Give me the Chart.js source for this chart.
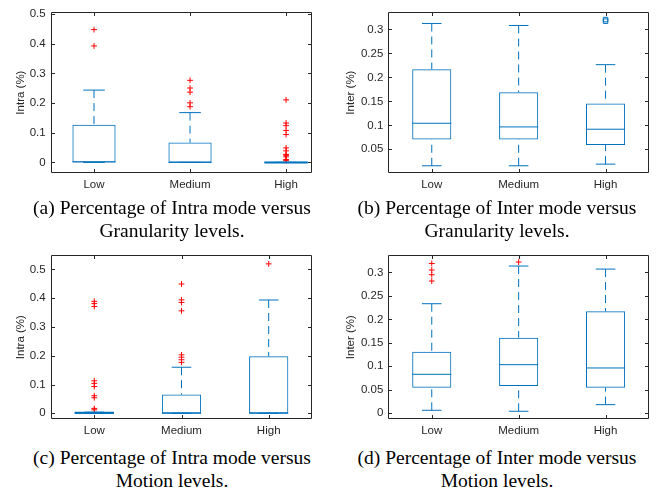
<!DOCTYPE html>
<html><head><meta charset="utf-8">
<script src="https://cdn.jsdelivr.net/npm/chart.js@4/dist/chart.umd.min.js"></script>
<style>
html,body{margin:0;padding:0;background:#fff;width:661px;height:487px;overflow:hidden;}
canvas{position:absolute;}
.cap{position:absolute;font-family:'Liberation Serif','Times New Roman',serif;font-size:19.5px;line-height:23px;color:#000;text-align:center;white-space:nowrap;transform:translateX(-50%);}
</style></head><body>
<canvas id="ca" width="330" height="190" style="left:0;top:0"></canvas>
<canvas id="cb" width="331" height="190" style="left:330px;top:0"></canvas>
<canvas id="cc" width="330" height="200" style="left:0;top:240px"></canvas>
<canvas id="cd" width="331" height="200" style="left:330px;top:240px"></canvas>
<div class="cap" style="left:172px;top:196px">(a) Percentage of Intra mode versus<br>Granularity levels.</div>
<div class="cap" style="left:497px;top:196px">(b) Percentage of Inter mode versus<br>Granularity levels.</div>
<div class="cap" style="left:172px;top:446px">(c) Percentage of Intra mode versus<br>Motion levels.</div>
<div class="cap" style="left:497px;top:446px">(d) Percentage of Inter mode versus<br>Motion levels.</div>
<script>
// ---------- data ----------
const categories = ['Low', 'Medium', 'High'];

// (a) Intra (%) vs Granularity
const aWhiskLo = [0, 0, 0];
const aQ1      = [0, 0, 0];
const aMedian  = [0.002, 0, 0];
const aQ3      = [0.127, 0.067, 0];
const aWhiskHi = [0.244, 0.168, 0];
const aOutliers = [
  [0.448, 0.393],
  [0.277, 0.251, 0.237, 0.201, 0.188],
  [0.211, 0.133, 0.124, 0.108, 0.094, 0.049, 0.039, 0.027, 0.024, 0.019, 0.010, 0.006]
];
const aTicks = [0, 0.1, 0.2, 0.3, 0.4, 0.5];

// (b) Inter (%) vs Granularity
const bWhiskLo = [0.0157, 0.0157, 0.0191];
const bQ1      = [0.0706, 0.0706, 0.0589];
const bMedian  = [0.1043, 0.0967, 0.0919];
const bQ3      = [0.2169, 0.1688, 0.1455];
const bWhiskHi = [0.3124, 0.3082, 0.2265];
const bOutliers = [[], [], [0.3205, 0.3172]];
const bTicks = [0.05, 0.1, 0.15, 0.2, 0.25, 0.3];

// (c) Intra (%) vs Motion
const cWhiskLo = [0, 0, 0];
const cQ1      = [0, 0, 0];
const cMedian  = [0, 0, 0];
const cQ3      = [0.004, 0.065, 0.198];
const cWhiskHi = [0.004, 0.160, 0.3935];
const cOutliers = [
  [0.389, 0.381, 0.371, 0.113, 0.104, 0.093, 0.061, 0.054, 0.017, 0.012],
  [0.449, 0.394, 0.385, 0.356, 0.203, 0.195, 0.186, 0.177],
  [0.519]
];
const cTicks = [0, 0.1, 0.2, 0.3, 0.4, 0.5];

// (d) Inter (%) vs Motion
const dWhiskLo = [0.0064, 0.0043, 0.0184];
const dQ1      = [0.0546, 0.0582, 0.0546];
const dMedian  = [0.083, 0.1035, 0.0965];
const dQ3      = [0.1312, 0.161, 0.217];
const dWhiskHi = [0.2333, 0.3135, 0.307];
const dOutliers = [[0.319, 0.305, 0.295, 0.2816], [0.322], []];
const dTicks = [0, 0.05, 0.1, 0.15, 0.2, 0.25, 0.3];

// ---------- drawing ----------
const BLUE = '#0072BD';
const AXIS = '#262626';
const FONT = "'Liberation Sans', Arial, Helvetica, sans-serif";

const boxPlugin = {
  id: 'boxWhiskers',
  afterDatasetsDraw(chart, args, opts) {
    const {ctx, scales: {x, y}} = chart;
    const meta = chart.getDatasetMeta(0);
    ctx.save();
    ctx.strokeStyle = BLUE;
    ctx.lineWidth = 1;
    categories.forEach((c, i) => {
      const bar = meta.data[i];
      const cx = x.getPixelForValue(i + 1);
      const hw = bar.width / 2;
      const cw = hw * 0.5;
      const yq1 = y.getPixelForValue(opts.q1[i]);
      const yq3 = y.getPixelForValue(opts.q3[i]);
      const yhi = y.getPixelForValue(opts.hi[i]);
      const ylo = y.getPixelForValue(opts.lo[i]);
      const ymed = y.getPixelForValue(opts.med[i]);
      // whiskers (dashed)
      ctx.setLineDash([8, 5]);
      ctx.beginPath();
      if (opts.hi[i] > opts.q3[i]) { ctx.moveTo(cx, yhi); ctx.lineTo(cx, yq3); }
      if (opts.lo[i] < opts.q1[i]) { ctx.moveTo(cx, ylo); ctx.lineTo(cx, yq1); }
      ctx.stroke();
      ctx.setLineDash([]);
      // caps
      ctx.beginPath();
      ctx.moveTo(cx - cw, yhi); ctx.lineTo(cx + cw, yhi);
      ctx.moveTo(cx - cw, ylo); ctx.lineTo(cx + cw, ylo);
      ctx.stroke();
      // median
      ctx.beginPath();
      ctx.moveTo(cx - hw, ymed); ctx.lineTo(cx + hw, ymed);
      ctx.stroke();
      if (opts.q3[i] - opts.q1[i] < 0.01) {
        ctx.lineWidth = 2;
        ctx.beginPath();
        ctx.moveTo(cx - hw, (yq1 + yq3) / 2); ctx.lineTo(cx + hw, (yq1 + yq3) / 2);
        ctx.stroke();
        ctx.lineWidth = 1;
      }
    });
    ctx.restore();
  }
};

const axesPlugin = {
  id: 'matlabAxes',
  afterDraw(chart) {
    const {ctx, chartArea: a, scales: {x, y}} = chart;
    const L = Math.round(a.left) + 0.5, R = Math.round(a.right) - 0.5;
    const T = Math.round(a.top) + 0.5, B = Math.round(a.bottom) - 0.5;
    const tl = 3.5;
    ctx.save();
    ctx.strokeStyle = AXIS;
    ctx.lineWidth = 1;
    ctx.beginPath();
    ctx.rect(L, T, R - L, B - T);
    y.ticks.forEach(t => {
      const py = Math.round(y.getPixelForValue(t.value)) + 0.5;
      ctx.moveTo(L, py); ctx.lineTo(L + tl, py);
      ctx.moveTo(R, py); ctx.lineTo(R - tl, py);
    });
    x.ticks.forEach(t => {
      const px = Math.round(x.getPixelForValue(t.value)) + 0.5;
      ctx.moveTo(px, B); ctx.lineTo(px, B - tl);
      ctx.moveTo(px, T); ctx.lineTo(px, T + tl);
    });
    ctx.stroke();
    ctx.restore();
  }
};

function fmt(v) { return String(+v.toFixed(3)); }

function makeChart(id, s) {
  const canvas = document.getElementById(id);
  const W = canvas.width, H = canvas.height;
  const datasets = [{
    type: 'bar',
    data: categories.map((c, i) => ({x: i + 1, y: [s.q1[i], s.q3[i]]})),
    backgroundColor: 'rgba(0,0,0,0)',
    borderColor: BLUE,
    borderWidth: 1,
    borderSkipped: false,
    barPercentage: 0.45,
    categoryPercentage: 1
  }, {
    type: 'scatter',
    data: s.outliers.flatMap((arr, i) => arr.map(v => ({x: i + 1, y: v}))),
    pointStyle: s.outStyle,
    radius: s.outStyle === 'rect' ? 3.2 : 2.9,
    borderColor: s.outColor,
    backgroundColor: 'rgba(0,0,0,0)',
    borderWidth: 1
  }];
  return new Chart(canvas, {
    data: {datasets},
    options: {
      responsive: false,
      animation: false,
      devicePixelRatio: 1,
      events: [],
      layout: {padding: {left: 0, top: s.top, right: W - s.right, bottom: 0}},
      plugins: {
        legend: {display: false},
        tooltip: {enabled: false},
        boxWhiskers: {q1: s.q1, q3: s.q3, med: s.med, lo: s.lo, hi: s.hi}
      },
      scales: {
        x: {
          type: 'linear', min: s.xmin, max: s.xmax, offset: false,
          grid: {display: false, drawTicks: false, offset: false},
          border: {display: false},
          afterBuildTicks: sc => { sc.ticks = categories.map((c, i) => ({value: i + 1})); },
          afterFit: sc => { sc.height = H - s.bottom; },
          ticks: {
            callback: v => categories[Math.round(v) - 1],
            color: AXIS, padding: 5, maxRotation: 0, autoSkip: false,
            font: {family: FONT, size: 11.5}
          }
        },
        y: {
          type: 'linear', min: s.ymin, max: s.ymax,
          grid: {display: false, drawTicks: false},
          border: {display: false},
          afterBuildTicks: sc => { sc.ticks = s.ticks.map(v => ({value: v})); },
          afterFit: sc => { sc.width = s.left; },
          ticks: {
            callback: v => fmt(v),
            color: AXIS, padding: 5, autoSkip: false,
            font: {family: FONT, size: 11.5}
          },
          title: {
            display: true, text: s.title, color: AXIS,
            font: {family: FONT, size: 11.5},
            padding: {top: 14, bottom: 0}
          }
        }
      }
    },
    plugins: [boxPlugin, axesPlugin]
  });
}

makeChart('ca', {q1: aQ1, q3: aQ3, med: aMedian, lo: aWhiskLo, hi: aWhiskHi, outliers: aOutliers,
  ticks: aTicks, title: 'Intra (%)', outStyle: 'cross', outColor: '#FF0000',
  xmin: 0.549, xmax: 3.27, ymin: -0.0367, ymax: 0.5078,
  left: 50.7, right: 312, top: 10, bottom: 173.3});
makeChart('cb', {q1: bQ1, q3: bQ3, med: bMedian, lo: bWhiskLo, hi: bWhiskHi, outliers: bOutliers,
  ticks: bTicks, title: 'Inter (%)', outStyle: 'rect', outColor: BLUE,
  xmin: 0.5, xmax: 3.5, ymin: 0, ymax: 0.3365,
  left: 58.3, right: 319, top: 10, bottom: 173.3});
makeChart('cc', {q1: cQ1, q3: cQ3, med: cMedian, lo: cWhiskLo, hi: cWhiskHi, outliers: cOutliers,
  ticks: cTicks, title: 'Intra (%)', outStyle: 'cross', outColor: '#FF0000',
  xmin: 0.5, xmax: 3.5, ymin: -0.0208, ymax: 0.5498,
  left: 50.7, right: 312.3, top: 15, bottom: 179.3});
makeChart('cd', {q1: dQ1, q3: dQ3, med: dMedian, lo: dWhiskLo, hi: dWhiskHi, outliers: dOutliers,
  ticks: dTicks, title: 'Inter (%)', outStyle: 'cross', outColor: '#FF0000',
  xmin: 0.5, xmax: 3.5, ymin: -0.0128, ymax: 0.337,
  left: 58.3, right: 319, top: 15, bottom: 179.3});
</script>
</body></html>
